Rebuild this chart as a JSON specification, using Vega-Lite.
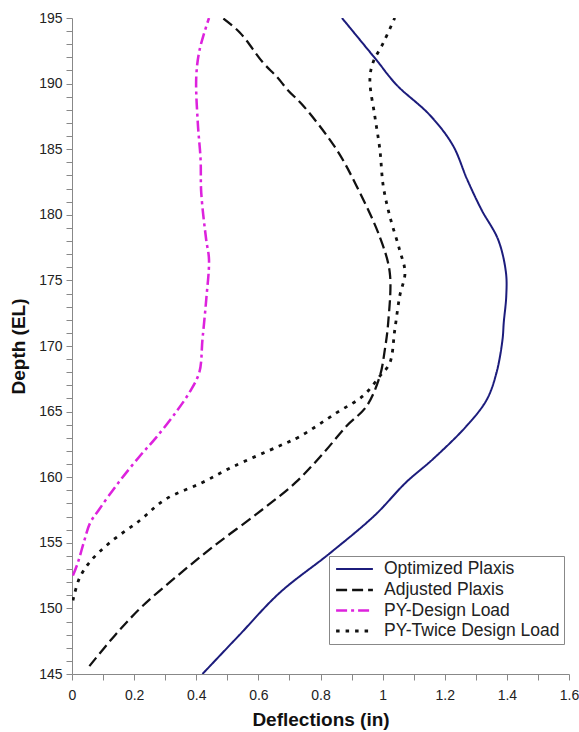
{
  "$schema": "https://vega.github.io/schema/vega-lite/v6.json",
  "width": 497,
  "height": 656,
  "autosize": {"type": "none"},
  "padding": {"left": 72, "top": 18, "right": 10, "bottom": 58},
  "background": "white",
  "config": {"view": {"stroke": null}, "font": "Liberation Sans"},
  "data": {"values": [
    {"s": "Optimized Plaxis", "i": 1, "x": 0.42, "y": 145},
    {"s": "Optimized Plaxis", "i": 2, "x": 0.54, "y": 148},
    {"s": "Optimized Plaxis", "i": 3, "x": 0.669, "y": 151.2},
    {"s": "Optimized Plaxis", "i": 4, "x": 0.83, "y": 154.2},
    {"s": "Optimized Plaxis", "i": 5, "x": 0.975, "y": 157.1},
    {"s": "Optimized Plaxis", "i": 6, "x": 1.075, "y": 159.6},
    {"s": "Optimized Plaxis", "i": 7, "x": 1.163, "y": 161.4},
    {"s": "Optimized Plaxis", "i": 8, "x": 1.27, "y": 163.9},
    {"s": "Optimized Plaxis", "i": 9, "x": 1.335, "y": 165.9},
    {"s": "Optimized Plaxis", "i": 10, "x": 1.367, "y": 168},
    {"s": "Optimized Plaxis", "i": 11, "x": 1.386, "y": 170.5},
    {"s": "Optimized Plaxis", "i": 12, "x": 1.39, "y": 171.8},
    {"s": "Optimized Plaxis", "i": 13, "x": 1.398, "y": 173.8},
    {"s": "Optimized Plaxis", "i": 14, "x": 1.397, "y": 175.6},
    {"s": "Optimized Plaxis", "i": 15, "x": 1.372, "y": 178.1},
    {"s": "Optimized Plaxis", "i": 16, "x": 1.318, "y": 180.4},
    {"s": "Optimized Plaxis", "i": 17, "x": 1.272, "y": 182.7},
    {"s": "Optimized Plaxis", "i": 18, "x": 1.226, "y": 185.3},
    {"s": "Optimized Plaxis", "i": 19, "x": 1.152, "y": 187.6},
    {"s": "Optimized Plaxis", "i": 20, "x": 1.045, "y": 189.9},
    {"s": "Optimized Plaxis", "i": 21, "x": 0.98, "y": 191.8},
    {"s": "Optimized Plaxis", "i": 22, "x": 0.869, "y": 195},

    {"s": "Adjusted Plaxis", "i": 1, "x": 0.056, "y": 145.6},
    {"s": "Adjusted Plaxis", "i": 2, "x": 0.14, "y": 148},
    {"s": "Adjusted Plaxis", "i": 3, "x": 0.228, "y": 150.2},
    {"s": "Adjusted Plaxis", "i": 4, "x": 0.34, "y": 152.5},
    {"s": "Adjusted Plaxis", "i": 5, "x": 0.454, "y": 154.7},
    {"s": "Adjusted Plaxis", "i": 6, "x": 0.6, "y": 157.3},
    {"s": "Adjusted Plaxis", "i": 7, "x": 0.72, "y": 159.6},
    {"s": "Adjusted Plaxis", "i": 8, "x": 0.808, "y": 161.8},
    {"s": "Adjusted Plaxis", "i": 9, "x": 0.884, "y": 163.9},
    {"s": "Adjusted Plaxis", "i": 10, "x": 0.948, "y": 165.4},
    {"s": "Adjusted Plaxis", "i": 11, "x": 0.991, "y": 167.7},
    {"s": "Adjusted Plaxis", "i": 12, "x": 1.007, "y": 169.7},
    {"s": "Adjusted Plaxis", "i": 13, "x": 1.018, "y": 171.8},
    {"s": "Adjusted Plaxis", "i": 14, "x": 1.023, "y": 175.6},
    {"s": "Adjusted Plaxis", "i": 15, "x": 0.991, "y": 178.3},
    {"s": "Adjusted Plaxis", "i": 16, "x": 0.916, "y": 182.2},
    {"s": "Adjusted Plaxis", "i": 17, "x": 0.851, "y": 185},
    {"s": "Adjusted Plaxis", "i": 18, "x": 0.745, "y": 188.3},
    {"s": "Adjusted Plaxis", "i": 19, "x": 0.695, "y": 189.5},
    {"s": "Adjusted Plaxis", "i": 20, "x": 0.66, "y": 190.5},
    {"s": "Adjusted Plaxis", "i": 21, "x": 0.615, "y": 191.6},
    {"s": "Adjusted Plaxis", "i": 22, "x": 0.54, "y": 193.9},
    {"s": "Adjusted Plaxis", "i": 23, "x": 0.485, "y": 195},

    {"s": "PY-Design Load", "i": 1, "x": 0.003, "y": 152.5},
    {"s": "PY-Design Load", "i": 2, "x": 0.019, "y": 153.5},
    {"s": "PY-Design Load", "i": 3, "x": 0.04, "y": 155.2},
    {"s": "PY-Design Load", "i": 4, "x": 0.058, "y": 156.5},
    {"s": "PY-Design Load", "i": 5, "x": 0.089, "y": 157.6},
    {"s": "PY-Design Load", "i": 6, "x": 0.15, "y": 159.6},
    {"s": "PY-Design Load", "i": 7, "x": 0.218, "y": 161.6},
    {"s": "PY-Design Load", "i": 8, "x": 0.27, "y": 163},
    {"s": "PY-Design Load", "i": 9, "x": 0.336, "y": 165},
    {"s": "PY-Design Load", "i": 10, "x": 0.379, "y": 166.5},
    {"s": "PY-Design Load", "i": 11, "x": 0.41, "y": 168},
    {"s": "PY-Design Load", "i": 12, "x": 0.42, "y": 170.5},
    {"s": "PY-Design Load", "i": 13, "x": 0.432, "y": 173.5},
    {"s": "PY-Design Load", "i": 14, "x": 0.441, "y": 176.6},
    {"s": "PY-Design Load", "i": 15, "x": 0.432, "y": 178.1},
    {"s": "PY-Design Load", "i": 16, "x": 0.416, "y": 181.7},
    {"s": "PY-Design Load", "i": 17, "x": 0.414, "y": 184.2},
    {"s": "PY-Design Load", "i": 18, "x": 0.405, "y": 187},
    {"s": "PY-Design Load", "i": 19, "x": 0.40, "y": 190.5},
    {"s": "PY-Design Load", "i": 20, "x": 0.411, "y": 192.6},
    {"s": "PY-Design Load", "i": 21, "x": 0.441, "y": 195},

    {"s": "PY-Twice Design Load", "i": 1, "x": 0.003, "y": 150.6},
    {"s": "PY-Twice Design Load", "i": 2, "x": 0.008, "y": 151.1},
    {"s": "PY-Twice Design Load", "i": 3, "x": 0.024, "y": 152.3},
    {"s": "PY-Twice Design Load", "i": 4, "x": 0.056, "y": 153.5},
    {"s": "PY-Twice Design Load", "i": 5, "x": 0.121, "y": 155},
    {"s": "PY-Twice Design Load", "i": 6, "x": 0.218, "y": 156.7},
    {"s": "PY-Twice Design Load", "i": 7, "x": 0.30, "y": 158.3},
    {"s": "PY-Twice Design Load", "i": 8, "x": 0.42, "y": 159.6},
    {"s": "PY-Twice Design Load", "i": 9, "x": 0.518, "y": 160.8},
    {"s": "PY-Twice Design Load", "i": 10, "x": 0.669, "y": 162.4},
    {"s": "PY-Twice Design Load", "i": 11, "x": 0.733, "y": 163.1},
    {"s": "PY-Twice Design Load", "i": 12, "x": 0.851, "y": 164.9},
    {"s": "PY-Twice Design Load", "i": 13, "x": 0.937, "y": 166.2},
    {"s": "PY-Twice Design Load", "i": 14, "x": 0.991, "y": 167.7},
    {"s": "PY-Twice Design Load", "i": 15, "x": 1.023, "y": 168.7},
    {"s": "PY-Twice Design Load", "i": 16, "x": 1.039, "y": 171.2},
    {"s": "PY-Twice Design Load", "i": 17, "x": 1.055, "y": 173.8},
    {"s": "PY-Twice Design Load", "i": 18, "x": 1.072, "y": 175.6},
    {"s": "PY-Twice Design Load", "i": 19, "x": 1.055, "y": 177.3},
    {"s": "PY-Twice Design Load", "i": 20, "x": 1.023, "y": 179.9},
    {"s": "PY-Twice Design Load", "i": 21, "x": 1.002, "y": 182.2},
    {"s": "PY-Twice Design Load", "i": 22, "x": 0.991, "y": 185},
    {"s": "PY-Twice Design Load", "i": 23, "x": 0.975, "y": 187.5},
    {"s": "PY-Twice Design Load", "i": 24, "x": 0.959, "y": 190.3},
    {"s": "PY-Twice Design Load", "i": 25, "x": 0.969, "y": 191.6},
    {"s": "PY-Twice Design Load", "i": 26, "x": 1.002, "y": 193.1},
    {"s": "PY-Twice Design Load", "i": 27, "x": 1.039, "y": 195}
  ]},
  "mark": {"type": "line", "interpolate": "catmull-rom", "clip": true},
  "encoding": {
    "x": {
      "field": "x", "type": "quantitative",
      "scale": {"domain": [0, 1.6], "nice": false, "zero": false},
      "axis": {
        "title": "Deflections (in)", "titleFontSize": 19, "titleFontWeight": "bold", "titleColor": "#111", "titlePadding": 8,
        "values": [0, 0.1, 0.2, 0.3, 0.4, 0.5, 0.6, 0.7, 0.8, 0.9, 1, 1.1, 1.2, 1.3, 1.4, 1.5, 1.6],
        "format": "~g",
        "labelExpr": "round(datum.value * 10) % 2 === 0 ? datum.label : ''",
        "grid": false, "domainColor": "#888", "tickColor": "#888", "tickSize": 6,
        "labelFontSize": 14, "labelColor": "#222", "labelPadding": 8, "labelFlush": false
      }
    },
    "y": {
      "field": "y", "type": "quantitative",
      "scale": {"domain": [145, 195], "nice": false, "zero": false},
      "axis": {
        "title": "Depth (EL)", "titleFontSize": 19, "titleFontWeight": "bold", "titleColor": "#111", "titlePadding": 10,
        "values": [145,146,147,148,149,150,151,152,153,154,155,156,157,158,159,160,161,162,163,164,165,166,167,168,169,170,171,172,173,174,175,176,177,178,179,180,181,182,183,184,185,186,187,188,189,190,191,192,193,194,195],
        "labelExpr": "datum.value % 5 === 0 ? datum.label : ''",
        "grid": false, "domainColor": "#888", "tickColor": "#888", "tickSize": 6,
        "labelFontSize": 14, "labelColor": "#222", "labelPadding": 4, "labelFlush": false
      }
    },
    "order": {"field": "i", "type": "quantitative"},
    "color": {
      "field": "s", "type": "nominal",
      "scale": {"domain": ["Optimized Plaxis", "Adjusted Plaxis", "PY-Design Load", "PY-Twice Design Load"],
                "range": ["#1c1c7c", "#111111", "#dd22dd", "#111111"]},
      "legend": {
        "title": null, "orient": "none", "legendX": 257, "legendY": 538,
        "symbolType": "M-2.3,0H2.3", "symbolSize": 256, "symbolStrokeWidth": 2.4, "symbolOffset": 12,
        "labelFontSize": 17.5, "labelColor": "#222", "labelOffset": 20, "labelLimit": 400, "rowPadding": 2.5,
        "padding": 4, "strokeColor": "#888", "fillColor": "white", "cornerRadius": 0
      }
    },
    "strokeDash": {
      "field": "s", "type": "nominal",
      "scale": {"domain": ["Optimized Plaxis", "Adjusted Plaxis", "PY-Design Load", "PY-Twice Design Load"],
                "range": [[1, 0], [11, 5], [11, 4, 3, 4], [3.5, 6]]},
      "legend": {
        "title": null, "orient": "none", "legendX": 257, "legendY": 538,
        "symbolType": "M-2.3,0H2.3", "symbolSize": 256, "symbolStrokeWidth": 2.4, "symbolOffset": 12,
        "labelFontSize": 17.5, "labelColor": "#222", "labelOffset": 20, "labelLimit": 400, "rowPadding": 2.5,
        "padding": 4, "strokeColor": "#888", "fillColor": "white", "cornerRadius": 0
      }
    },
    "strokeWidth": {
      "field": "s", "type": "nominal",
      "scale": {"domain": ["Optimized Plaxis", "Adjusted Plaxis", "PY-Design Load", "PY-Twice Design Load"],
                "range": [2, 2.8, 3, 3]},
      "legend": null
    }
  }
}
